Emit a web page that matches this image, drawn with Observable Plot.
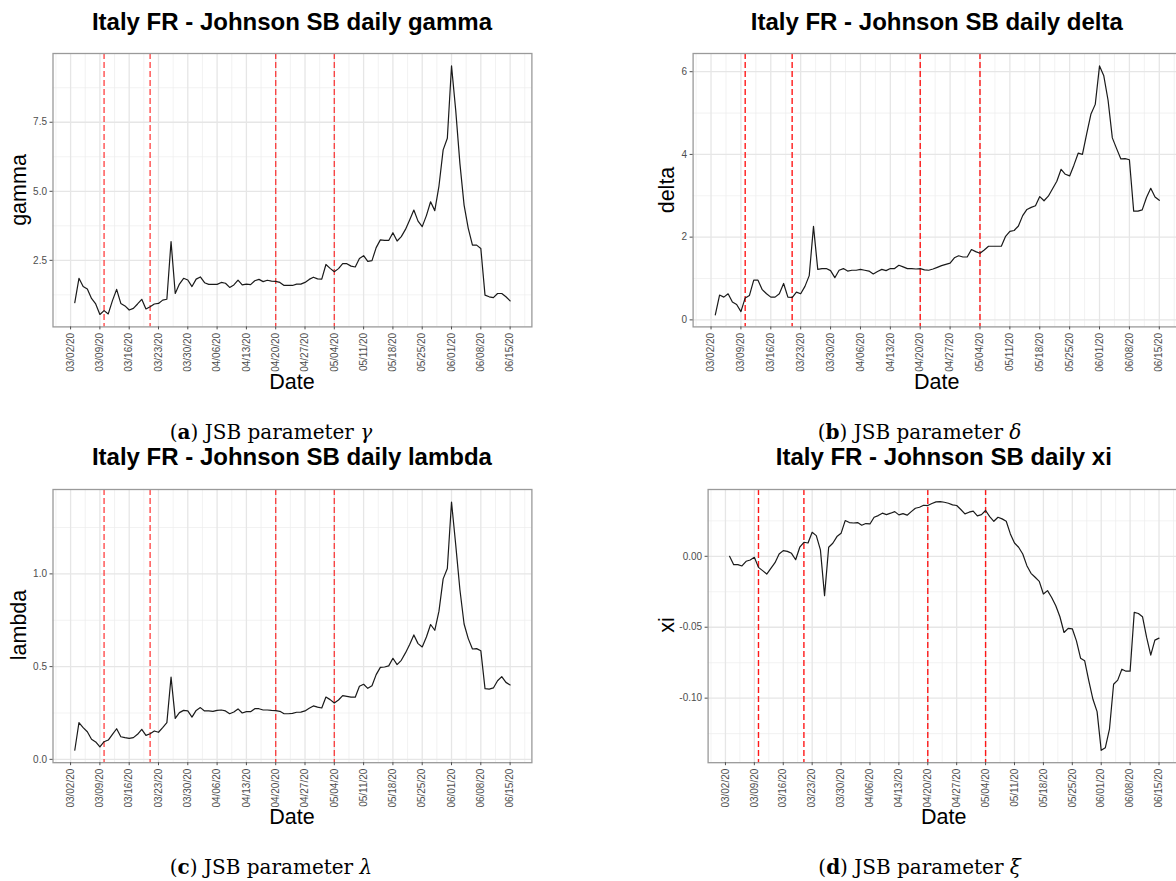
<!DOCTYPE html>
<html><head><meta charset="utf-8">
<script src="https://cdn.jsdelivr.net/npm/d3@7"></script>
<script src="https://cdn.jsdelivr.net/npm/@observablehq/plot@0.6"></script>
<style>
html,body{margin:0;padding:0;background:#fff;}
#fig{position:relative;width:1176px;height:881px;overflow:hidden;background:#fff;font-family:"Liberation Sans",Arial,sans-serif;}
#fig svg{position:absolute;}
.title{position:absolute;font-weight:bold;font-size:24px;line-height:1;color:#000;white-space:nowrap;transform:translate(-50%,-50%);}
.xlab{position:absolute;font-size:21.5px;line-height:1;color:#000;white-space:nowrap;transform:translate(-50%,-50%);}
.ylab{position:absolute;font-size:21.5px;line-height:1;color:#000;white-space:nowrap;transform:translate(-50%,-50%) rotate(-90deg);}
.cap{position:absolute;font-family:"DejaVu Serif",serif;font-size:20px;line-height:1;color:#000;white-space:nowrap;transform:translate(-50%,-50%);}
</style></head><body><div id="fig"></div>
<script>
// ---- data ----
const firstDate = "03/03/20";
const lastDate = "06/15/20";
const xTickLabels = ["03/02/20","03/09/20","03/16/20","03/23/20","03/30/20","04/06/20","04/13/20","04/20/20",
  "04/27/20","05/04/20","05/11/20","05/18/20","05/25/20","06/01/20","06/08/20","06/15/20"];
const eventDates = ["03/10/20","03/21/20","04/20/20","05/04/20"];

const gammaValues = [0.97,1.85,1.55,1.46,1.12,0.92,0.54,0.68,0.56,1.04,
 1.45,0.94,0.85,0.70,0.76,0.92,1.09,0.74,0.82,0.92,
 0.94,1.06,1.09,3.18,1.30,1.64,1.85,1.79,1.55,1.82,
 1.90,1.69,1.63,1.63,1.63,1.70,1.67,1.52,1.61,1.78,
 1.61,1.64,1.62,1.76,1.81,1.73,1.78,1.75,1.74,1.70,
 1.59,1.59,1.59,1.64,1.64,1.70,1.81,1.89,1.83,1.82,
 2.35,2.21,2.09,2.20,2.38,2.38,2.29,2.26,2.57,2.67,
 2.46,2.49,2.96,3.24,3.22,3.22,3.50,3.20,3.36,3.62,
 3.96,4.32,3.92,3.72,4.12,4.62,4.30,5.19,6.50,6.92,
 9.54,7.94,6.01,4.50,3.66,3.05,3.05,2.93,1.24,1.18,
 1.15,1.30,1.30,1.18,1.03];

const deltaValues = [0.12,0.60,0.55,0.63,0.43,0.37,0.20,0.53,0.59,0.96,
 0.96,0.73,0.63,0.55,0.55,0.63,0.88,0.55,0.54,0.67,
 0.63,0.81,1.07,2.26,1.22,1.24,1.24,1.19,1.02,1.20,
 1.24,1.18,1.20,1.20,1.22,1.20,1.18,1.11,1.17,1.22,
 1.19,1.24,1.24,1.32,1.28,1.24,1.24,1.23,1.24,1.21,
 1.20,1.23,1.27,1.31,1.34,1.37,1.50,1.55,1.52,1.52,
 1.70,1.65,1.61,1.69,1.78,1.78,1.78,1.78,2.02,2.14,
 2.16,2.27,2.52,2.67,2.72,2.76,2.98,2.88,2.99,3.17,
 3.35,3.64,3.52,3.48,3.74,4.03,4.00,4.50,4.98,5.21,
 6.14,5.90,5.31,4.40,4.14,3.89,3.90,3.87,2.63,2.63,
 2.66,2.96,3.18,2.97,2.89];

const lambdaValues = [0.049,0.198,0.171,0.149,0.108,0.094,0.067,0.095,0.104,0.135,
 0.165,0.122,0.117,0.113,0.117,0.135,0.162,0.129,0.138,0.153,
 0.146,0.171,0.198,0.444,0.221,0.252,0.264,0.261,0.228,0.264,
 0.279,0.261,0.261,0.259,0.264,0.266,0.261,0.246,0.255,0.272,
 0.250,0.257,0.257,0.273,0.273,0.266,0.266,0.264,0.263,0.259,
 0.246,0.246,0.248,0.254,0.255,0.261,0.275,0.288,0.282,0.277,
 0.336,0.322,0.304,0.320,0.344,0.340,0.336,0.335,0.394,0.405,
 0.383,0.397,0.457,0.496,0.498,0.504,0.545,0.511,0.534,0.574,
 0.619,0.671,0.624,0.606,0.660,0.727,0.696,0.799,0.973,1.029,
 1.387,1.158,0.916,0.730,0.651,0.595,0.597,0.586,0.381,0.379,
 0.385,0.424,0.446,0.415,0.401];

const xiValues = [0.0000,-0.0059,-0.0059,-0.0068,-0.0035,-0.0026,-0.0007,-0.0078,-0.0101,-0.0125,
 -0.0085,-0.0045,0.0016,0.0040,0.0035,0.0021,-0.0024,0.0064,0.0099,0.0094,
 0.0169,0.0146,0.0045,-0.0278,0.0064,0.0092,0.0139,0.0162,0.0252,0.0238,
 0.0235,0.0238,0.0219,0.0231,0.0228,0.0275,0.0287,0.0304,0.0294,0.0304,
 0.0315,0.0292,0.0301,0.0290,0.0315,0.0339,0.0346,0.0360,0.0358,0.0372,
 0.0384,0.0386,0.0381,0.0374,0.0363,0.0358,0.0330,0.0299,0.0311,0.0318,
 0.0285,0.0294,0.0323,0.0280,0.0247,0.0275,0.0264,0.0247,0.0158,0.0094,
 0.0064,0.0016,-0.0066,-0.0120,-0.0148,-0.0177,-0.0266,-0.0242,-0.0290,-0.0348,
 -0.0426,-0.0537,-0.0508,-0.0511,-0.0596,-0.0718,-0.0737,-0.0878,-0.1008,-0.1095,
 -0.1368,-0.1349,-0.1219,-0.0902,-0.0873,-0.0796,-0.0810,-0.0810,-0.0395,-0.0403,
 -0.0426,-0.0572,-0.0697,-0.0591,-0.0577];

const gammaTicks = [2.5, 5.0, 7.5];
const deltaTicks = [0, 2, 4, 6];
const lambdaTicks = [0.0, 0.5, 1.0];
const xiTicks = [-0.10, -0.05, 0.00];

// ---- helpers ----
const parse = d3.utcParse("%m/%d/%y");
const fmtDate = d3.utcFormat("%m/%d/%y");
const dates = d3.utcDay.range(parse(firstDate), d3.utcDay.offset(parse(lastDate), 1));
const xMajor = xTickLabels.map(parse);
const weekMs = 7 * 864e5;
const span = dates[dates.length - 1] - dates[0];
const xDomain = [new Date(+dates[0] - 0.05 * span), new Date(+dates[dates.length - 1] + 0.05 * span)];
const xMinor = [xMajor[0] - weekMs / 2, ...xMajor.map(d => +d + weekMs / 2)]
  .filter(t => t >= +xDomain[0] && t <= +xDomain[1]).map(t => new Date(t));
const events = eventDates.map(parse);

function minorOf(ticks, domain) {
  const step = ticks[1] - ticks[0];
  const ext = [ticks[0] - step, ...ticks, ticks[ticks.length - 1] + step];
  const out = [];
  for (let i = 0; i < ext.length - 1; i++) out.push((ext[i] + ext[i + 1]) / 2);
  return out.filter(v => v >= domain[0] && v <= domain[1]);
}

const panels = [
  {values: gammaValues, ticks: gammaTicks, fmt: d => d.toFixed(1), yDomain: [0.09, 9.99],
   frame: {l: 52.5, r: 531.4, t: 53.3, b: 326.7}, svgLeft: 0, svgWidth: 560,
   title: "Italy FR - Johnson SB daily gamma", ylabel: "gamma", ylabX: 19.6, xlabY: 383.3, titleY: 22,
   redOpacity: 0.7, cap: "(<b>a</b>) JSB parameter <i>γ</i>", capX: 271, capY: 431.5},
  {values: deltaValues, ticks: deltaTicks, fmt: d => d.toFixed(0), yDomain: [-0.17, 6.44],
   frame: {l: 692.6, r: 1181, t: 53.3, b: 326.7}, svgLeft: 600, svgWidth: 600,
   title: "Italy FR - Johnson SB daily delta", ylabel: "delta", ylabX: 668, xlabY: 383.3, titleY: 22,
   redOpacity: 0.9, cap: "(<b>b</b>) JSB parameter <i>δ</i>", capX: 919.6, capY: 431.5},
  {values: lambdaValues, ticks: lambdaTicks, fmt: d => d.toFixed(1), yDomain: [-0.018, 1.455],
   frame: {l: 52.5, r: 531.4, t: 488.5, b: 761.7}, svgLeft: 0, svgWidth: 560,
   title: "Italy FR - Johnson SB daily lambda", ylabel: "lambda", ylabX: 19.6, xlabY: 818.3, titleY: 456.7,
   redOpacity: 0.7, cap: "(<b>c</b>) JSB parameter <i>λ</i>", capX: 271, capY: 866.7},
  {values: xiValues, ticks: xiTicks, fmt: d => d.toFixed(2), yDomain: [-0.1455, 0.0471],
   frame: {l: 707.6, r: 1180, t: 488.5, b: 761.7}, svgLeft: 600, svgWidth: 600,
   title: "Italy FR - Johnson SB daily xi", ylabel: "xi", ylabX: 668, xlabY: 818.3, titleY: 456.7,
   redOpacity: 0.9, cap: "(<b>d</b>) JSB parameter <i>ξ</i>", capX: 919.6, capY: 866.7}
];

const fig = document.getElementById("fig");
function addDiv(cls, html, x, y) {
  const d = document.createElement("div");
  d.className = cls; d.innerHTML = html;
  d.style.left = x + "px"; d.style.top = y + "px";
  fig.appendChild(d);
}

for (const p of panels) {
  const f = p.frame;
  const svgTop = f.t - 13;
  const svgHeight = f.b + 60 - svgTop;
  const series = dates.map((date, i) => ({date, value: p.values[i]}));
  const chart = Plot.plot({
    width: p.svgWidth, height: svgHeight,
    marginLeft: f.l - p.svgLeft, marginRight: p.svgLeft + p.svgWidth - f.r,
    marginTop: f.t - svgTop, marginBottom: svgTop + svgHeight - f.b,
    x: {type: "utc", domain: xDomain},
    y: {domain: p.yDomain},
    style: {fontFamily: "'Liberation Sans', Arial, sans-serif", background: "transparent", overflow: "visible"},
    marks: [
      Plot.gridX(xMinor, {stroke: "#ececec", strokeOpacity: 1, strokeWidth: 0.7}),
      Plot.gridY(minorOf(p.ticks, p.yDomain), {stroke: "#ececec", strokeOpacity: 1, strokeWidth: 0.7}),
      Plot.gridX(xMajor, {stroke: "#e6e6e6", strokeOpacity: 1, strokeWidth: 1.3}),
      Plot.gridY(p.ticks, {stroke: "#e6e6e6", strokeOpacity: 1, strokeWidth: 1.3}),
      Plot.ruleX(events, {stroke: "red", strokeOpacity: p.redOpacity, strokeWidth: 1.4, strokeDasharray: "6,3"}),
      Plot.line(series, {x: "date", y: "value", stroke: "#1a1a1a", strokeWidth: 1.2}),
      Plot.frame({stroke: "#9a9a9a", strokeWidth: 1.3}),
      Plot.axisX(xMajor, {tickFormat: fmtDate, tickRotate: -90, tickSize: 3, tickPadding: 3,
        fontSize: 10, color: "#4d4d4d", label: null}),
      Plot.axisY(p.ticks, {tickFormat: p.fmt, tickSize: 3, tickPadding: 3,
        fontSize: 10, color: "#4d4d4d", label: null})
    ]
  });
  chart.style.left = p.svgLeft + "px";
  chart.style.top = svgTop + "px";
  fig.appendChild(chart);
  const cx = (f.l + f.r) / 2, cy = (f.t + f.b) / 2;
  addDiv("title", p.title, cx, p.titleY);
  addDiv("xlab", "Date", cx, p.xlabY);
  addDiv("ylab", p.ylabel, p.ylabX, cy);
  addDiv("cap", p.cap, p.capX, p.capY);
}
</script></body></html>
